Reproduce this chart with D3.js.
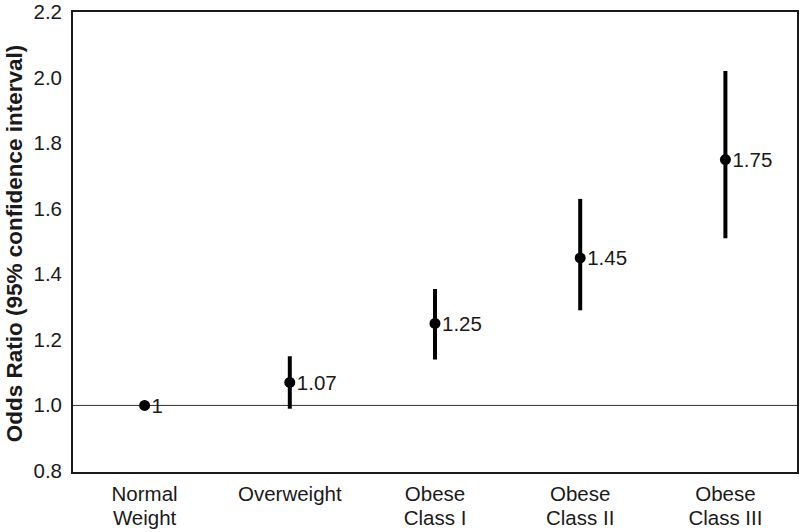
<!DOCTYPE html>
<html>
<head>
<meta charset="utf-8">
<script src="https://cdn.jsdelivr.net/npm/d3@7"></script>
<style>
  body { margin: 0; background: #fff; }
  svg { display: block; font-family: Arial, "Liberation Sans", sans-serif; }
</style>
</head>
<body>
<svg id="chart" width="800" height="532"></svg>
<script>
const categories = [["Normal", "Weight"], ["Overweight"], ["Obese", "Class I"], ["Obese", "Class II"], ["Obese", "Class III"]];
const oddsRatios = [1, 1.07, 1.25, 1.45, 1.75];
const lowerCI = [null, 0.99, 1.14, 1.29, 1.51];
const upperCI = [null, 1.15, 1.355, 1.63, 2.02];
const pointLabels = ["1", "1.07", "1.25", "1.45", "1.75"];
const yTicks = [0.8, 1.0, 1.2, 1.4, 1.6, 1.8, 2.0, 2.2];
const yTitle = "Odds Ratio (95% confidence interval)";
const referenceValue = 1.0;

(function () {
const svg = d3.select("#chart");
const pLeft = 72, pRight = 798, pTop = 12, pBottom = 471;
const fs = 20.5;

const x = d3.scaleBand().domain(d3.range(categories.length)).range([pLeft, pRight]);
const y = d3.scaleLinear().domain([0.8, 2.2]).range([pBottom, pTop]);

// reference line
svg.append("line")
  .attr("x1", pLeft).attr("x2", pRight)
  .attr("y1", y(referenceValue)).attr("y2", y(referenceValue))
  .attr("stroke", "#333").attr("stroke-width", 1);

// frame
svg.append("path")
  .attr("d", `M${pLeft},${pTop - 1}H${pRight}V${pBottom + 2}H${pLeft}Z`)
  .attr("fill", "none").attr("stroke", "#1a1a1a").attr("stroke-width", 2);

// y axis (no tick marks)
const yAxis = d3.axisLeft(y).tickValues(yTicks).tickFormat(d3.format(".1f")).tickSize(0).tickPadding(10);
const gy = svg.append("g").attr("transform", `translate(${pLeft},0)`).call(yAxis);
gy.select(".domain").remove();
gy.selectAll("text").attr("font-size", fs).attr("fill", "#1a1a1a").attr("font-family", "Arial, 'Liberation Sans', sans-serif");

// y title
svg.append("text")
  .attr("transform", `translate(22,${(pTop + pBottom) / 2 + 2}) rotate(-90)`)
  .attr("text-anchor", "middle")
  .attr("font-size", 22.5).attr("font-weight", "bold").attr("fill", "#1a1a1a")
  .text(yTitle);

const cx = i => x(i) + x.bandwidth() / 2;

// x labels
categories.forEach((lines, i) => {
  const t = svg.append("text")
    .attr("x", cx(i))
    .attr("y", 501)
    .attr("text-anchor", "middle")
    .attr("font-size", fs).attr("fill", "#1a1a1a");
  lines.forEach((ln, j) => {
    t.append("tspan").attr("x", cx(i)).attr("dy", j === 0 ? 0 : 24).text(ln);
  });
});

// CI bars
svg.append("g").selectAll("line")
  .data(d3.range(categories.length).filter(i => lowerCI[i] !== null))
  .join("line")
  .attr("x1", cx).attr("x2", cx)
  .attr("y1", i => y(lowerCI[i])).attr("y2", i => y(upperCI[i]))
  .attr("stroke", "#000").attr("stroke-width", 4);

// points
svg.append("g").selectAll("circle")
  .data(d3.range(categories.length))
  .join("circle")
  .attr("cx", cx).attr("cy", i => y(oddsRatios[i]))
  .attr("r", 5.5).attr("fill", "#000");

// point labels
svg.append("g").selectAll("text")
  .data(d3.range(categories.length))
  .join("text")
  .attr("x", i => cx(i) + 7).attr("y", i => y(oddsRatios[i]))
  .attr("dy", "0.36em")
  .attr("font-size", fs).attr("fill", "#1a1a1a")
  .text(i => pointLabels[i]);
})();
</script>
</body>
</html>
